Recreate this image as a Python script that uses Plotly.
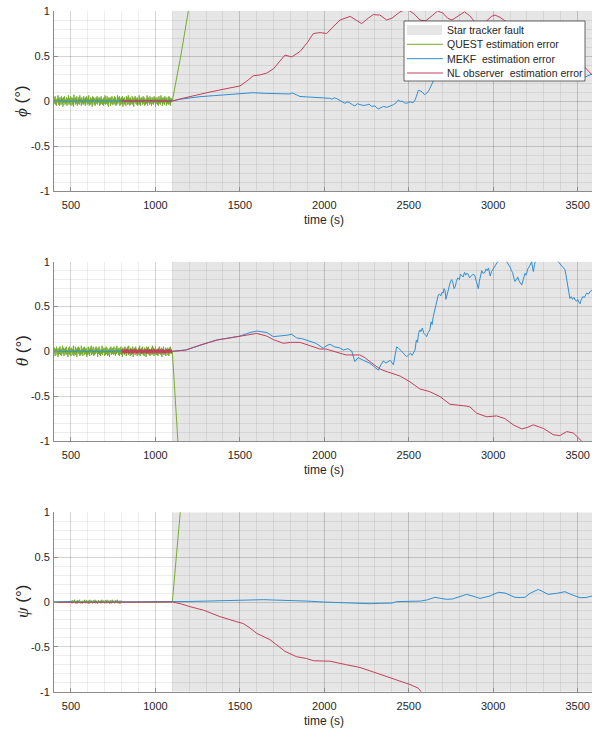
import numpy as np
import plotly.graph_objects as go

# ---------------- data ----------------
FAULT_T = 1100
T_END = 3585
MDEG = 1000.0  # noise lists below are in milli-degrees

# pre-fault noise (QUEST), milli-degrees
quest_noise_phi = [
 40,-28,52,-40,15,-52,28,-15,62,-40, 28,-52,40,5,-40,52,-28,28,-62,40,
 -15,52,-40,15,-28,40,-52,28,-15,62, -40,28,-28,52,-52,15,40,-40,28,-62,
 70,-15,28,-40,40,-28,52,-52,15,-28, 40,-40,62,-15,28,-52,40,-28,15,-40,
 52,-28,28,-52,40,-15,52,-40,28,-28, 62,-52,15,-40,40,-28,28,-62,52,-15,
 40,-40,28,-52,15,40,-28,52,-40,28, -15,40,-52,28,-40,52,-28,15,-40,28,
 -52,40,-28,62,-40,15,-28,52,-40,28, -62,40,-15,28,-52,40,-28,52,-40,15,
 28,-40,52,-28,40,-52,15,-40,62,-28, 40,-15,52,-52,28,-40,40,-28,52,-62,
 28,-28,40,-40,15,-52,52,-15,40,-40, 62,-28,28,-52,40,-40,15,-28,52,-40,
 28,-62,40,-15,52,-28,28,-40,40,-52, 15,-28,62,-40,28,-52,40,-15,28,-40,
 52,-28,40,-52,15,-40,28,-28,62,-52, 40,-15,28,-40,52,-28,15,-52,40,-28,
 28,-40,52,-15,40,-62,28,-28,40,-40, 15,-52,52,-28,28,-40,62,-15,40,-52,
 28,-28,40,-40,52,-15,28,-52,40,-28, 15,-40,52,-28,40,-52,28,-15,28,0]
quest_noise_theta = [
 -28,40,-52,28,-15,52,-40,28,-62,15, 40,-28,52,-40,28,-52,15,62,-28,40,
 -52,28,-15,40,-40,52,-28,15,-62,40, -28,52,-40,28,-52,40,-15,28,-40,62,
 -52,15,-28,52,-40,28,-62,40,-15,52, -28,40,-52,15,-40,62,-28,28,-52,40,
 -15,52,-40,28,-28,40,-62,15,-40,52, -28,28,-52,40,-15,62,-40,28,-28,52,
 -52,15,-40,40,-28,52,-15,28,-62,40, -28,52,-40,15,-52,28,-28,62,-40,28,
 -15,40,-52,28,-40,52,-28,40,-52,15, -40,28,-62,40,-15,52,-40,28,-28,40,
 -40,52,-28,15,-52,40,-28,62,-15,28, -40,40,-52,28,-28,52,-40,15,-62,40,
 -15,28,-40,52,-28,40,-52,28,-15,52, -40,62,-28,15,-52,40,-40,28,-28,52,
 -62,28,-15,40,-40,52,-28,28,-52,15, -28,40,-40,62,-52,28,-15,40,-28,52,
 -40,15,-52,40,-28,28,-62,52,-15,40, -28,52,-40,28,-52,15,-28,40,-40,62,
 -15,40,-52,28,-28,52,-40,15,-40,28, -52,40,-28,52,-15,28,-40,40,-62,28,
 -28,52,-40,15,-28,40,-52,28,-15,40, -40,28,-52,40,-28,52,-15,28,-28,0]
quest_noise_psi = [
 15,-15,20,-8,25,-15,15,-20,20,-8, 25,-15,8,-20,15,-8,25,-15,20,-15,
 15,-20,25,-8,15,-15,20,-8,25,-15, 15,-20,20,-8,15,-15,25,-8,15,-15,
 20,-15,25,-8,15,-20,20,-15,25,-8, 15,-15,20,-8,25,-15,15,-20,15,0]
mekf_noise_pre = [
 4,-3,5,-4,2,-5,3,-2,6,-3, 2,-4,5,-2,3,-5,4,-3,2,-4,
 5,-2,3,-4,4,-3,2,-5,3,-2, 4,-4,3,-2,5,-3,2,-4,3,0]
mekf_noise_psi = [
 6,-6,8,-4,7,-6,5,-8,6,-4, 8,-6,4,-7,6,-5,8,-6,6,-4,
 6,-8,7,-4,6,-5,8,-4,6,0]
nl_noise_phi = [
 10,-10,12,-8,5,-12,10,-5,8,-10, 12,-8,10,-12,5,-10,10,-5,12,-10,
 8,-12,10,-8,5,-10,12,-5,10,-12, 8,-10,10,-8,12,-5,10,-10,8,-12,
 10,-8,12,-10,5,-12,10,-6,8,-10, 12,-8,10,-12,6,-10,10,-5,5,0]
nl_noise_theta = [
 20,-20,25,-15,10,-25,20,-10,15,-20, 25,-15,20,-25,10,-20,20,-10,25,-20,
 15,-25,20,-15,10,-20,25,-10,20,-25, 15,-20,20,-15,25,-10,20,-20,15,-25,
 20,-15,10,-20,25,-10,15,-20,20,-25, 25,-20,15,-25,20,-10,20,-20,25,-15,
 10,-25,20,-15,25,-20,15,-10,20,-25, 20,-20,25,-10,15,-25,20,-15,10,-20,
 25,-15,20,-20,10,-25,15,-20,20,-10, 15,-20,20,-15,25,-10,15,-20,10,0]

# post-fault curves (time s, error deg)
quest_phi_t = [1100, 1150, 1195, 1240]
quest_phi_v = [0.0, 0.5, 1.0, 1.5]
quest_theta_t = [1100, 1133, 1160]
quest_theta_v = [0.0, -1.0, -1.8]
quest_psi_t = [1100, 1147, 1180]
quest_psi_v = [0.0, 1.0, 1.7]

mekf_phi_t = [1100,1150,1200,1264,1350,1450,1578,1650,1720,1797,1810,1830,1856,1900,1950,2000,2033,2045,2060,2075,2090,2105,2122,2135,2150,2165,2181,2195,2210,2230,2251,2265,2280,2300,2319,2335,2350,2370,2389,2400,2410,2425,2438,2450,2460,2475,2488,2500,2510,2525,2537,2545,2557,2570,2580,2593,2606,2620,2635,2645,2660,2700,2750,2800,2850,2900,2950,3000,3100,3200,3300,3400,3470,3514,3550,3585]
mekf_phi_v = [0,0.02,0.035,0.048,0.06,0.075,0.092,0.085,0.08,0.078,0.09,0.07,0.05,0.045,0.04,0.035,0.03,0.02,0.035,0.025,0.01,0.0,-0.026,-0.01,-0.02,-0.04,-0.055,-0.03,-0.035,-0.05,-0.044,-0.035,-0.06,-0.055,-0.089,-0.07,-0.06,-0.07,-0.055,-0.05,-0.04,-0.02,0.011,-0.005,0.0,-0.02,-0.026,-0.015,-0.01,-0.02,0.01,0.05,0.12,0.11,0.10,0.07,0.085,0.12,0.18,0.23,0.28,0.34,0.40,0.44,0.48,0.52,0.50,0.55,0.50,0.46,0.40,0.33,0.28,0.25,0.27,0.30]
nl_phi_t = [1100,1150,1200,1300,1400,1500,1540,1579,1620,1659,1700,1767,1807,1856,1900,1935,1975,2014,2050,2093,2153,2190,2221,2260,2290,2329,2369,2400,2448,2490,2530,2566,2600,2640,2670,2700,2730,2756,2790,2830,2860,2890,2922,2950,2990,3010,3040,3100,3200,3300,3400,3480,3540,3585]
nl_phi_v = [0,0.025,0.048,0.09,0.13,0.167,0.22,0.28,0.29,0.31,0.36,0.51,0.49,0.55,0.65,0.75,0.76,0.75,0.82,0.90,0.94,0.90,0.86,0.92,0.96,0.955,0.90,0.92,0.99,1.02,0.97,0.90,0.89,0.95,1.0,0.98,0.92,0.90,0.94,0.99,0.95,0.88,0.85,0.87,0.94,0.955,0.93,0.85,0.72,0.60,0.50,0.44,0.38,0.29]

mekf_theta_t = [1100,1180,1264,1363,1500,1560,1600,1640,1660,1698,1740,1780,1807,1825,1836,1870,1915,1950,1994,2010,2033,2060,2090,2112,2140,2162,2181,2200,2231,2250,2270,2295,2320,2335,2349,2365,2379,2390,2409,2428,2440,2460,2488,2510,2520,
 2537,2541,2545,2552,2558,2566,2572,2580,2590,2600,2606,2615,2625,2632,2638,2645,2652,2658,2665,2670,2675,2682,2690,2697,2704,2709,2715,2720,2725,2733,2740,2747,2754,2762,2768,2775,2782,2790,2800,2806,2813,2822,2830,2837,2843,2852,2860,2870,2880,2890,2897,2902,2907,2912,2918,2925,2932,2940,2950,2958,2965,2972,2978,2982,2990,3001,3010,3020,3030,3050,3070,3080,3090,3100,3108,3115,3122,3129,3137,3145,3152,3160,3169,3178,3188,3195,3205,3215,3228,3233,3238,3245,3255,3300,3350,3385,3395,3405,3415,3425,3430,3435,3445,3454,3462,3470,3478,3486,3494,3500,3507,3514,3520,3530,3540,3553,3565,3575,3585]
mekf_theta_v = [0,0.015,0.07,0.127,0.17,0.21,0.227,0.22,0.21,0.164,0.17,0.18,0.19,0.17,0.15,0.14,0.11,0.09,0.034,0.06,0.079,0.05,0.04,0.015,0.03,0.004,-0.115,-0.07,-0.10,-0.12,-0.133,-0.17,-0.21,-0.15,-0.107,-0.13,-0.11,-0.10,-0.15,0.05,0.035,0.0,-0.06,-0.02,-0.045,
 0.015,0.08,0.127,0.10,0.20,0.24,0.22,0.26,0.20,0.18,0.165,0.21,0.24,0.33,0.30,0.387,0.45,0.50,0.57,0.62,0.63,0.64,0.62,0.66,0.65,0.70,0.68,0.58,0.62,0.70,0.72,0.78,0.80,0.76,0.70,0.72,0.78,0.82,0.80,0.86,0.85,0.83,0.88,0.85,0.87,0.86,0.82,0.84,0.86,0.85,0.80,0.76,0.72,0.70,0.78,0.86,0.90,0.87,0.88,0.92,0.90,0.93,0.88,0.84,0.89,0.92,0.95,0.98,1.01,1.03,1.02,1.0,0.97,0.94,0.90,0.88,0.82,0.78,0.80,0.83,0.79,0.76,0.74,0.80,0.87,0.85,0.92,0.95,1.0,0.93,0.89,0.97,1.05,1.15,1.10,1.0,0.98,0.96,0.93,0.91,0.86,0.80,0.68,0.59,0.61,0.58,0.60,0.57,0.56,0.58,0.55,0.53,0.57,0.61,0.60,0.65,0.64,0.67,0.68]
nl_theta_t = [1100,1180,1264,1363,1500,1600,1659,1700,1757,1800,1856,1920,1974,2010,2060,2128,2210,2240,2270,2300,2329,2360,2389,2448,2507,2566,2625,2685,2744,2803,2840,2862,2902,2961,3020,3069,3119,3169,3200,3238,3297,3356,3395,3435,3474,3523,3585]
nl_theta_v = [0,0.015,0.07,0.125,0.17,0.20,0.17,0.13,0.09,0.10,0.10,0.06,0.026,0.026,0.0,-0.04,-0.04,-0.07,-0.115,-0.16,-0.196,-0.22,-0.237,-0.275,-0.34,-0.42,-0.45,-0.505,-0.59,-0.60,-0.61,-0.62,-0.69,-0.73,-0.72,-0.75,-0.82,-0.865,-0.85,-0.82,-0.86,-0.93,-0.94,-0.895,-0.91,-1.0,-1.1]

mekf_psi_t = [1100,1200,1300,1441,1550,1639,1700,1797,1900,1994,2080,2152,2270,2329,2400,2428,2547,2570,2606,2630,2655,2690,2724,2760,2800,2843,2880,2922,2981,3030,3070,3100,3129,3160,3188,3218,3267,3300,3326,3376,3425,3460,3514,3550,3585]
mekf_psi_v = [0,0.006,0.01,0.019,0.022,0.026,0.022,0.019,0.01,0.0,-0.008,-0.015,-0.019,-0.015,-0.012,0.004,0.004,0.01,0.022,0.04,0.052,0.04,0.03,0.034,0.06,0.085,0.065,0.04,0.067,0.108,0.10,0.075,0.052,0.05,0.052,0.097,0.14,0.11,0.085,0.097,0.115,0.085,0.048,0.05,0.067]
nl_psi_t = [1100,1150,1204,1283,1382,1481,1520,1560,1600,1678,1720,1767,1836,1895,1935,2033,2132,2211,2290,2369,2448,2507,2556,2590]
nl_psi_v = [0,-0.02,-0.052,-0.09,-0.163,-0.22,-0.24,-0.29,-0.35,-0.42,-0.48,-0.55,-0.61,-0.63,-0.655,-0.66,-0.70,-0.73,-0.78,-0.83,-0.88,-0.92,-0.96,-1.04]

x_ticks = [500, 1000, 1500, 2000, 2500, 3000, 3500]
y_ticks = [-1, -0.5, 0, 0.5, 1]
y_ticktext = ["-1", "-0.5", "0", "0.5", "1"]
y_titles = ["ϕ", "θ", "ψ"]
names = ["Star tracker fault", "QUEST estimation error", "MEKF\u00a0 estimation error", "NL observer\u00a0 estimation error"]

# ---------------- assemble series ----------------
def seg(t0, t1, vals, scale=1.0):
    return list(np.linspace(t0, t1, len(vals))), [v / scale for v in vals]

def join(*parts):
    t, v = [], []
    for pt, pv in parts:
        t += list(pt); v += list(pv)
    return t, v

quest = [
    join(seg(400, FAULT_T, quest_noise_phi, MDEG), (quest_phi_t[1:], quest_phi_v[1:])),
    join(seg(400, FAULT_T, quest_noise_theta, MDEG), (quest_theta_t[1:], quest_theta_v[1:])),
    join(([400, 495], [0.0, 0.0]), seg(500, 800, quest_noise_psi, MDEG), ([805, FAULT_T], [0.0, 0.0]),
         (quest_psi_t[1:], quest_psi_v[1:])),
]
mekf = [
    join(seg(400, FAULT_T, mekf_noise_pre, MDEG), (mekf_phi_t[1:], mekf_phi_v[1:])),
    join(seg(400, FAULT_T, mekf_noise_pre, MDEG), (mekf_theta_t[1:], mekf_theta_v[1:])),
    join(([400, 495], [0.0, 0.0]), seg(500, 800, mekf_noise_psi, MDEG), ([805, FAULT_T], [0.0, 0.0]),
         (mekf_psi_t[1:], mekf_psi_v[1:])),
]
nl = [
    join(seg(800, FAULT_T, nl_noise_phi, MDEG), (nl_phi_t[1:], nl_phi_v[1:])),
    join(seg(800, FAULT_T, nl_noise_theta, MDEG), (nl_theta_t[1:], nl_theta_v[1:])),
    join(([400, 800, FAULT_T], [-0.004, -0.006, 0.0]), (nl_psi_t[1:], nl_psi_v[1:])),
]

# ---------------- figure ----------------
W, H = 592, 731
GREEN, BLUE, RED = "#77AC30", "#2F8ED3", "#C2405C"
SHADE = "#E6E6E6"
TXT = "#262626"
SANS = "Liberation Sans, Arial, sans-serif"
panels_px = [(11, 191), (261.7, 441), (512.3, 691.7)]
x_left = 54.1
px_per_s = 0.1689

def px(xp):
    return xp / W

def py(yp):
    return (H - yp) / H

fig = go.Figure()
axis_font = dict(family=SANS, size=11, color=TXT)

for i in range(3):
    xa = "x" if i == 0 else f"x{i+1}"
    ya = "y" if i == 0 else f"y{i+1}"
    for (t, v), col, nm in zip((quest[i], mekf[i], nl[i]), (GREEN, BLUE, RED), names[1:]):
        fig.add_trace(go.Scatter(x=t, y=v, mode="lines", name=nm, showlegend=False,
                                 line=dict(color=col, width=1), xaxis=xa, yaxis=ya))
    fig.add_shape(type="rect", xref=xa, yref=ya, x0=FAULT_T, x1=T_END, y0=-1, y1=1,
                  fillcolor=SHADE, line=dict(width=0), layer="below")

    top, bot = panels_px[i]
    dom = [(H - bot) / H, (H - top) / H]
    common = dict(ticks="inside", ticklen=4, tickcolor="#8c8c8c",
                  showline=True, linecolor="#8c8c8c", linewidth=1,
                  showgrid=True, gridcolor="rgba(0,0,0,0.11)", gridwidth=1,
                  tickfont=axis_font, zeroline=False, fixedrange=True, automargin=False)
    fig.update_layout(**{
        ("xaxis" if i == 0 else f"xaxis{i+1}"): dict(
            domain=[x_left / W, 1], range=[400, T_END], anchor=ya, tickvals=x_ticks,
            ticklabelstandoff=4,
            minor=dict(dtick=100, tick0=400, showgrid=True, gridcolor="rgba(0,0,0,0.07)", ticks=""),
            **common),
        ("yaxis" if i == 0 else f"yaxis{i+1}"): dict(
            domain=dom, range=[-1, 1], anchor=xa, tickvals=y_ticks, ticktext=y_ticktext,
            ticklabelstandoff=1,
            minor=dict(dtick=0.1, tick0=0, showgrid=True, gridcolor="rgba(0,0,0,0.07)", ticks=""),
            **common),
    })
    # axis titles
    fig.add_annotation(x=px(x_left + (3600 - 400) * px_per_s / 2), y=py(bot + 29),
                       xref="paper", yref="paper", text="time (s)", showarrow=False,
                       xanchor="center", yanchor="middle",
                       font=dict(family=SANS, size=12, color=TXT))
    fig.add_annotation(x=px(22), y=py((top + bot) / 2), xref="paper", yref="paper",
                       text=f"<i><span style='font-family:Liberation Serif'>{y_titles[i]}</span></i> (°)",
                       textangle=-90, showarrow=False, xanchor="center", yanchor="middle",
                       font=dict(family=SANS, size=17, color=TXT))

# legend (drawn inside the first panel)
LEG_X0, LEG_X1, LEG_Y0, LEG_Y1 = 404, 585, 21, 81
row_y = [30, 44.3, 58.7, 73]
fig.add_shape(type="rect", xref="paper", yref="paper", x0=px(LEG_X0), x1=px(LEG_X1),
              y0=py(LEG_Y1), y1=py(LEG_Y0), fillcolor="white",
              line=dict(color="#404040", width=0.8), layer="above")
fig.add_shape(type="rect", xref="paper", yref="paper", x0=px(407), x1=px(442),
              y0=py(row_y[0] + 5), y1=py(row_y[0] - 5), fillcolor=SHADE,
              line=dict(width=0), layer="above")
for ry, col in zip(row_y[1:], (GREEN, BLUE, RED)):
    fig.add_shape(type="line", xref="paper", yref="paper", x0=px(407), x1=px(443),
                  y0=py(ry), y1=py(ry), line=dict(color=col, width=1), layer="above")
for ry, nm in zip(row_y, names):
    fig.add_annotation(x=px(445), y=py(ry), xref="paper", yref="paper", text=nm,
                       showarrow=False, xanchor="left", yanchor="middle",
                       font=dict(family=SANS, size=10.5, color=TXT))

fig.update_layout(
    width=W, height=H, margin=dict(l=0, r=0, t=0, b=0),
    paper_bgcolor="white", plot_bgcolor="white",
    showlegend=False, hovermode=False,
)

fig.write_html("out.html")
